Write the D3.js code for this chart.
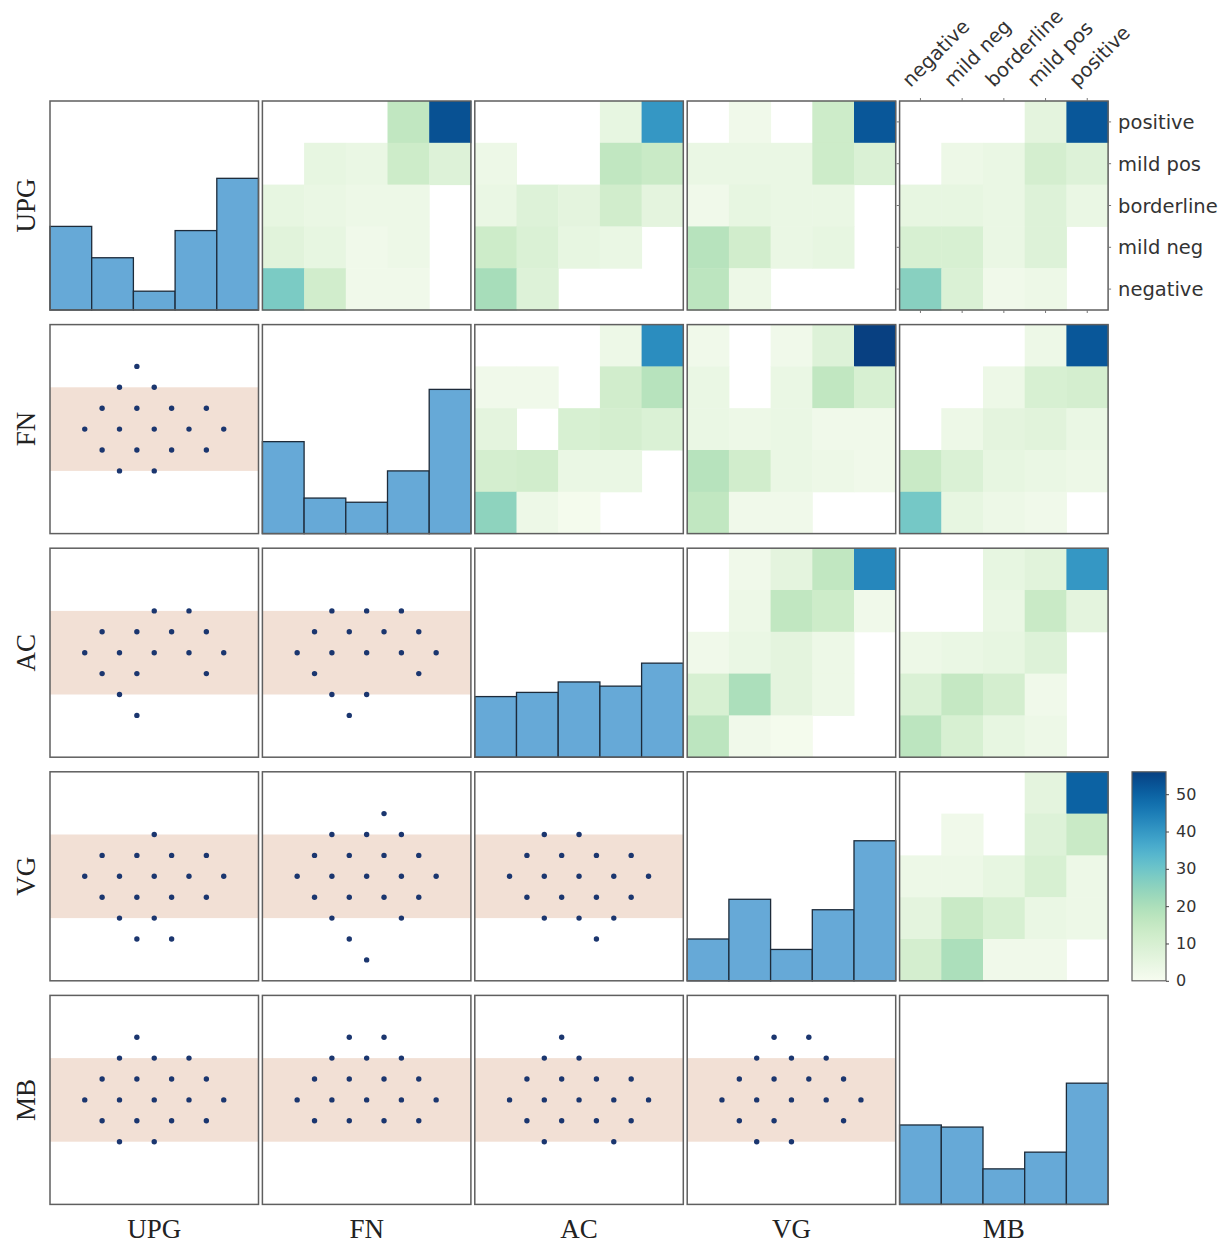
<!DOCTYPE html>
<html>
<head>
<meta charset="utf-8">
<script src="https://cdn.jsdelivr.net/npm/d3@7"></script>
<style>
  body { margin: 0; background: #fff; }
</style>
</head>
<body>
<svg id="chart" width="1228" height="1246"></svg>
<script>
// ---- data -------------------------------------------------------------
const variables = ["UPG", "FN", "AC", "VG", "MB"];
const categories = ["negative", "mild neg", "borderline", "mild pos", "positive"];
const colorTicks = [0, 10, 20, 30, 40, 50];

// counts per category (negative → positive)
const histUPG = [40, 25, 9, 38, 63];
const histFN  = [44, 17, 15, 30, 69];
const histAC  = [29, 31, 36, 34, 45];
const histVG  = [20, 39, 15, 34, 67];
const histMB  = [38, 37, 17, 25, 58];

// cross-tabulations: rows positive → negative (top to bottom),
// columns negative → positive (left to right)
const heatUPG_FN = [
  [0, 0, 0, 16, 53],
  [0, 5, 4, 13, 8],
  [5, 4, 3, 3, 0],
  [7, 5, 2, 3, 0],
  [28, 12, 2, 2, 0]
];
const heatUPG_AC = [
  [0, 0, 0, 5, 40],
  [3, 0, 0, 16, 14],
  [4, 8, 6, 12, 6],
  [13, 9, 5, 4, 0],
  [21, 8, 0, 0, 0]
];
const heatUPG_VG = [
  [0, 2, 0, 13, 52],
  [4, 4, 4, 13, 9],
  [2, 5, 4, 4, 0],
  [18, 12, 4, 5, 0],
  [17, 3, 0, 0, 0]
];
const heatUPG_MB = [
  [0, 0, 0, 6, 52],
  [0, 3, 4, 11, 8],
  [5, 5, 4, 8, 4],
  [10, 10, 4, 8, 0],
  [26, 9, 2, 3, 0]
];
const heatFN_AC = [
  [0, 0, 0, 3, 42],
  [2, 2, 0, 12, 18],
  [6, 0, 10, 11, 9],
  [11, 12, 4, 4, 0],
  [25, 3, 1, 0, 0]
];
const heatFN_VG = [
  [2, 0, 2, 8, 56],
  [4, 0, 4, 16, 10],
  [4, 3, 4, 2, 2],
  [18, 12, 4, 3, 2],
  [16, 2, 2, 0, 0]
];
const heatFN_MB = [
  [0, 0, 0, 3, 52],
  [0, 0, 3, 10, 11],
  [0, 3, 6, 7, 4],
  [14, 9, 5, 4, 3],
  [29, 5, 3, 2, 0]
];
const heatAC_VG = [
  [0, 2, 6, 16, 43],
  [0, 3, 16, 13, 2],
  [2, 4, 6, 3, 0],
  [10, 20, 6, 3, 0],
  [17, 2, 1, 0, 0]
];
const heatAC_MB = [
  [0, 0, 5, 7, 40],
  [0, 0, 4, 14, 6],
  [3, 4, 5, 8, 0],
  [9, 15, 11, 2, 0],
  [17, 10, 5, 3, 0]
];
const heatVG_MB = [
  [0, 0, 0, 6, 50],
  [0, 2, 0, 8, 14],
  [3, 3, 5, 10, 3],
  [6, 14, 10, 4, 3],
  [11, 20, 2, 2, 0]
];

// lattice positions of the points: [level, [grid x positions]]
const dotsFN_UPG = [[8, [5]], [7, [4, 6]], [6, [3, 5, 7, 9]], [5, [2, 4, 6, 8, 10]], [4, [3, 5, 7, 9]], [3, [4, 6]]];
const dotsAC_UPG = [[7, [6, 8]], [6, [3, 5, 7, 9]], [5, [2, 4, 6, 8, 10]], [4, [3, 5, 9]], [3, [4]], [2, [5]]];
const dotsAC_FN  = [[7, [4, 6, 8]], [6, [3, 5, 7, 9]], [5, [2, 4, 6, 8, 10]], [4, [3, 9]], [3, [4, 6]], [2, [5]]];
const dotsVG_UPG = [[7, [6]], [6, [3, 5, 7, 9]], [5, [2, 4, 6, 8, 10]], [4, [3, 5, 7, 9]], [3, [4, 6]], [2, [5, 7]]];
const dotsVG_FN  = [[8, [7]], [7, [4, 6, 8]], [6, [3, 5, 7, 9]], [5, [2, 4, 6, 8, 10]], [4, [3, 5, 7, 9]], [3, [4, 8]], [2, [5]], [1, [6]]];
const dotsVG_AC  = [[7, [4, 6]], [6, [3, 5, 7, 9]], [5, [2, 4, 6, 8, 10]], [4, [3, 5, 7, 9]], [3, [4, 6, 8]], [2, [7]]];
const dotsMB_UPG = [[8, [5]], [7, [4, 6, 8]], [6, [3, 5, 7, 9]], [5, [2, 4, 6, 8, 10]], [4, [3, 5, 7, 9]], [3, [4, 6]]];
const dotsMB_FN  = [[8, [5, 7]], [7, [4, 6, 8]], [6, [3, 5, 7, 9]], [5, [2, 4, 6, 8, 10]], [4, [3, 5, 7, 9]]];
const dotsMB_AC  = [[8, [5]], [7, [4, 6]], [6, [3, 5, 7, 9]], [5, [2, 4, 6, 8, 10]], [4, [3, 5, 7, 9]], [3, [4, 8]]];
const dotsMB_VG  = [[8, [5, 7]], [7, [4, 6, 8]], [6, [3, 5, 7, 9]], [5, [2, 4, 6, 8, 10]], [4, [3, 5, 9]], [3, [4, 6]]];

// shaded band on the point panels (lattice levels)
const bandRange = [3, 7];

// ---- lookup tables ------------------------------------------------------
const histTable = { UPG: histUPG, FN: histFN, AC: histAC, VG: histVG, MB: histMB };
const heatTable = {
  "UPG|FN": heatUPG_FN, "UPG|AC": heatUPG_AC, "UPG|VG": heatUPG_VG, "UPG|MB": heatUPG_MB,
  "FN|AC": heatFN_AC, "FN|VG": heatFN_VG, "FN|MB": heatFN_MB,
  "AC|VG": heatAC_VG, "AC|MB": heatAC_MB, "VG|MB": heatVG_MB
};
const dotTable = {
  "FN|UPG": dotsFN_UPG, "AC|UPG": dotsAC_UPG, "AC|FN": dotsAC_FN,
  "VG|UPG": dotsVG_UPG, "VG|FN": dotsVG_FN, "VG|AC": dotsVG_AC,
  "MB|UPG": dotsMB_UPG, "MB|FN": dotsMB_FN, "MB|AC": dotsMB_AC, "MB|VG": dotsMB_VG
};

// ---- layout -------------------------------------------------------------
const svg = d3.select("#chart");
const panelW = 208.5, panelH = 209;
const colX = d3.scaleLinear().domain([0, 1]).range([50, 262.4]);
const rowY = d3.scaleLinear().domain([0, 1]).range([101, 324.6]);

const color = d3.scaleSequential(d3.interpolateGnBu).domain([0, 56]);

const frameColor = "#5f5f5f";
const histFill = "#66a9d7";
const histStroke = "#1d2b3a";
const dotColor = "#1b366f";
const bandColor = "#f2e0d5";

const catX = d3.scaleBand().domain(d3.range(5)).range([0, panelW]);
const catY = d3.scaleBand().domain(d3.range(5)).range([0, panelH]); // row 0 = positive
const histY = d3.scaleLinear().domain([0, 100]).range([panelH, 0]);
const latX = d3.scaleLinear().domain([0, 12]).range([0, panelW]);
const latY = d3.scaleLinear().domain([0, 10]).range([panelH, 0]);

variables.forEach((rv, i) => {
  variables.forEach((cv, j) => {
    const g = svg.append("g").attr("transform", `translate(${colX(j)},${rowY(i)})`);

    if (i === j) {
      // histogram on the diagonal
      g.selectAll("rect.bar").data(histTable[rv]).join("rect")
        .attr("class", "bar")
        .attr("x", (d, k) => catX(k))
        .attr("width", catX.bandwidth())
        .attr("y", d => histY(d))
        .attr("height", d => panelH - histY(d))
        .attr("fill", histFill)
        .attr("stroke", histStroke)
        .attr("stroke-width", 1.3);
    } else if (j > i) {
      // cross-tab heat map above the diagonal
      const m = heatTable[rv + "|" + cv];
      const cells = [];
      m.forEach((row, r) => row.forEach((v, c) => cells.push({ r, c, v })));
      g.selectAll("rect.cell").data(cells.filter(d => d.v > 0)).join("rect")
        .attr("class", "cell")
        .attr("x", d => catX(d.c))
        .attr("y", d => catY(d.r))
        .attr("width", catX.bandwidth() + 0.5)
        .attr("height", catY.bandwidth() + 0.5)
        .attr("fill", d => color(d.v));
    } else {
      // lattice of points below the diagonal
      g.append("rect")
        .attr("x", 0).attr("width", panelW)
        .attr("y", latY(bandRange[1]))
        .attr("height", latY(bandRange[0]) - latY(bandRange[1]))
        .attr("fill", bandColor);
      const pts = [];
      dotTable[rv + "|" + cv].forEach(([lv, xs]) => xs.forEach(x => pts.push([x, lv])));
      g.selectAll("circle").data(pts).join("circle")
        .attr("cx", d => latX(d[0]))
        .attr("cy", d => latY(d[1]))
        .attr("r", 2.7)
        .attr("fill", dotColor);
    }

    g.append("rect")
      .attr("width", panelW).attr("height", panelH)
      .attr("fill", "none")
      .attr("stroke", frameColor)
      .attr("stroke-width", 1.5);
  });
});

// ---- category labels on the top-right panel ----------------------------
const tr = svg.append("g").attr("transform", `translate(${colX(4)},${rowY(0)})`);
const labelFont = "'DejaVu Sans', sans-serif";

// right side: y categories (positive at top)
tr.selectAll("text.ylab").data(d3.range(5)).join("text")
  .attr("class", "ylab")
  .attr("x", panelW + 10)
  .attr("y", r => catY(r) + catY.bandwidth() / 2)
  .attr("dy", "0.36em")
  .attr("font-family", labelFont)
  .attr("font-size", 19.5)
  .attr("fill", "#333")
  .text(r => categories[4 - r]);

// top: x categories, rotated
tr.selectAll("text.xlab").data(d3.range(5)).join("text")
  .attr("class", "xlab")
  .attr("transform", c => `translate(${catX(c) + catX.bandwidth() / 2 - 10},${-13}) rotate(-45)`)
  .attr("font-family", labelFont)
  .attr("font-size", 19.5)
  .attr("fill", "#333")
  .text(c => categories[c]);

// small ticks around the labelled panel
const tickLen = 3;
const tickPos = d3.range(5).map(k => catX(k) + catX.bandwidth() / 2);
tickPos.forEach(p => {
  tr.append("line").attr("x1", p).attr("x2", p).attr("y1", 0).attr("y2", -tickLen).attr("stroke", "#777");
  tr.append("line").attr("x1", p).attr("x2", p).attr("y1", panelH).attr("y2", panelH + tickLen).attr("stroke", "#777");
});
d3.range(5).map(k => catY(k) + catY.bandwidth() / 2).forEach(p => {
  tr.append("line").attr("x1", 0).attr("x2", -tickLen).attr("y1", p).attr("y2", p).attr("stroke", "#777");
  tr.append("line").attr("x1", panelW).attr("x2", panelW + tickLen).attr("y1", p).attr("y2", p).attr("stroke", "#777");
});

// ---- variable names -----------------------------------------------------
const nameFont = "'Liberation Serif', 'Times New Roman', serif";
svg.selectAll("text.rowname").data(variables).join("text")
  .attr("class", "rowname")
  .attr("transform", (d, i) => `translate(35,${rowY(i) + panelH / 2}) rotate(-90)`)
  .attr("text-anchor", "middle")
  .attr("font-family", nameFont)
  .attr("font-size", 27)
  .attr("fill", "#222")
  .text(d => d);

svg.selectAll("text.colname").data(variables).join("text")
  .attr("class", "colname")
  .attr("x", (d, j) => colX(j) + panelW / 2)
  .attr("y", 1238)
  .attr("text-anchor", "middle")
  .attr("font-family", nameFont)
  .attr("font-size", 27)
  .attr("fill", "#222")
  .text(d => d);

// ---- colour bar ---------------------------------------------------------
const cbX = 1132, cbW = 34;
const cbTop = rowY(3), cbBottom = rowY(3) + panelH;
const cbScale = d3.scaleLinear().domain(color.domain()).range([cbBottom, cbTop]);

const grad = svg.append("defs").append("linearGradient")
  .attr("id", "cbgrad").attr("x1", 0).attr("x2", 0).attr("y1", 1).attr("y2", 0);
d3.range(0, 1.0001, 0.05).forEach(t => {
  grad.append("stop").attr("offset", t).attr("stop-color", d3.interpolateGnBu(t));
});
svg.append("rect")
  .attr("x", cbX).attr("y", cbTop).attr("width", cbW).attr("height", cbBottom - cbTop)
  .attr("fill", "url(#cbgrad)")
  .attr("stroke", frameColor).attr("stroke-width", 1.2);

const cbAxis = d3.axisRight(cbScale).tickValues(colorTicks).tickSize(3).tickPadding(7);
const cbg = svg.append("g").attr("transform", `translate(${cbX + cbW},0)`).call(cbAxis);
cbg.select(".domain").remove();
cbg.selectAll(".tick line").attr("stroke", "#444");
cbg.selectAll(".tick text")
  .attr("font-family", labelFont)
  .attr("font-size", 16)
  .attr("fill", "#333");
</script>
</body>
</html>
